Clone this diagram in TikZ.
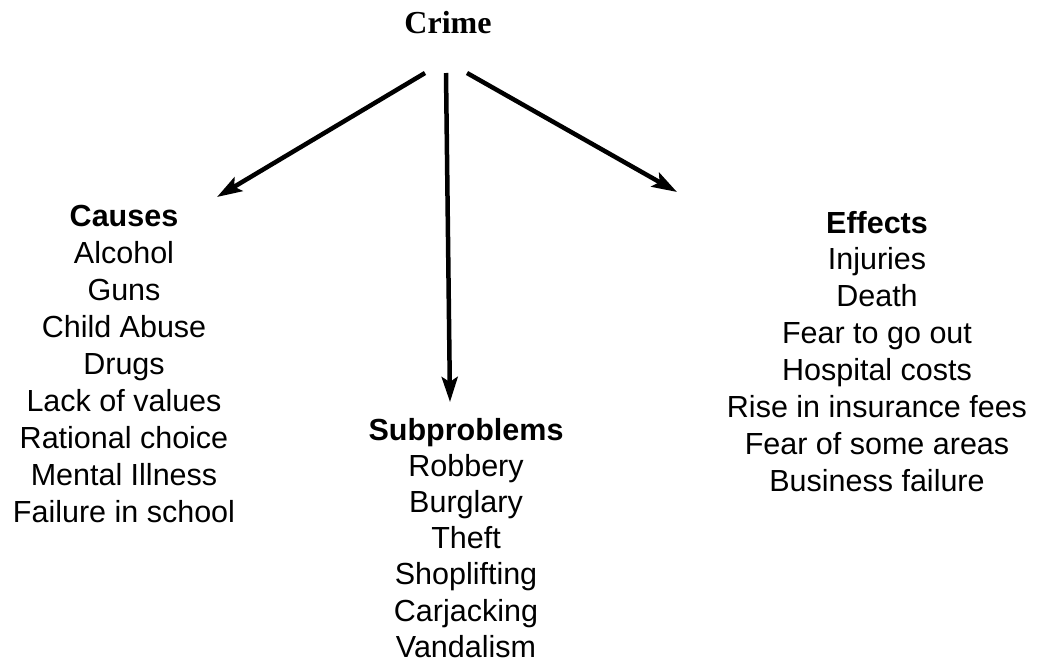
\documentclass[tikz,border=0pt]{standalone}
\usepackage{fontspec}
\setmainfont{Liberation Sans}
\newfontfamily\crimefont{Liberation Serif}
\usetikzlibrary{arrows.meta}
\begin{document}
\begin{tikzpicture}[x=1pt,y=-1pt,
  item/.style={anchor=base,inner sep=0pt,font=\fontsize{30.5}{37}\selectfont},
  head/.style={item,font=\fontsize{30.5}{37}\selectfont\bfseries},
  arr/.style={line width=4.5pt,-{Stealth[length=25pt,width=16pt,inset=5pt]}}]
\useasboundingbox (0,0) rectangle (1038,662);
\node[anchor=base,inner sep=0pt,font=\crimefont\fontsize{32}{37}\selectfont\bfseries] (crime) at (448,33) {Crime};
% Causes
\node[head] (causes) at (124,226) {Causes};
\foreach \t [count=\i] in {Alcohol,Guns,Child Abuse,Drugs,Lack of values,Rational choice,Mental Illness,Failure in school}
  \node[item] (c\i) at (124,226+37*\i) {\t};
% Subproblems
\node[head] (sub) at (466,440) {Subproblems};
\foreach \t [count=\i] in {Robbery,Burglary,Theft,Shoplifting,Carjacking,Vandalism}
  \node[item] (s\i) at (466,440+36.2*\i) {\t};
% Effects
\node[head] (effects) at (877,233) {Effects};
\foreach \t [count=\i] in {Injuries,Death,Fear to go out,Hospital costs,Rise in insurance fees,Fear of some areas,Business failure}
  \node[item] (e\i) at (877,233+36.9*\i) {\t};
% arrows
\coordinate (l0) at (425,73);
\coordinate (l1) at (217,197);
\coordinate (m0) at (446,73);
\coordinate (m1) at (450,402);
\coordinate (r0) at (467,73);
\coordinate (r1) at (677,192);
\draw[arr] (l0) -- (l1);
\draw[arr] (m0) -- (m1);
\draw[arr] (r0) -- (r1);
\end{tikzpicture}
\end{document}
